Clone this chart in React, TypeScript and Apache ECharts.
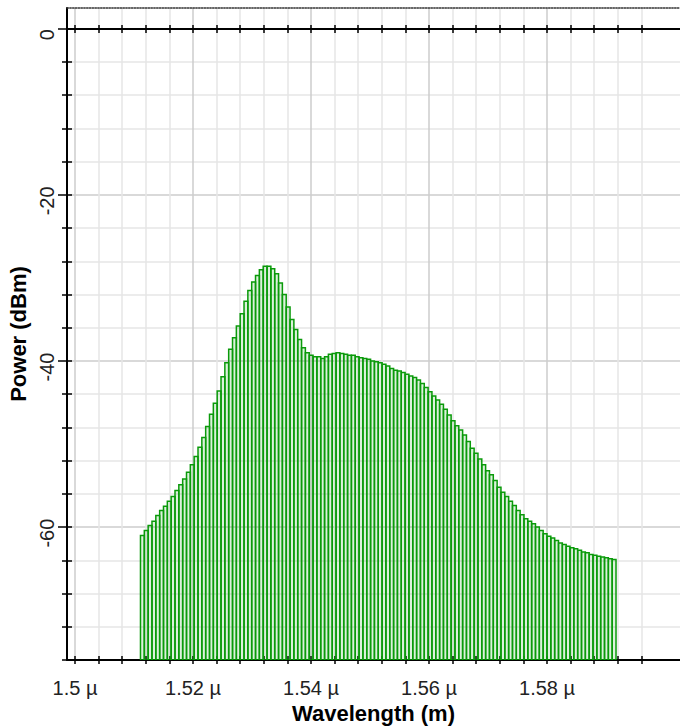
import React, { useEffect, useRef } from "react";
import * as echarts from "echarts";

// ---- data ----
const X_TITLE = "Wavelength (m)";
const Y_TITLE = "Power (dBm)";
const X_UNIT = "µ";

// spectrum bins (µm): first bin centre and bin width
const FIRST_WAVELENGTH = 1.51142;
const WAVELENGTH_STEP = 0.00065;

// power per bin (dBm)
const POWER_DBM = [
  -61.0, -60.4, -59.8, -59.3, -58.6, -58.0, -57.5, -56.9, -56.3, -55.6,
  -54.9, -54.2, -53.4, -52.5, -51.5, -50.4, -49.2, -47.9, -46.4, -45.1,
  -43.6, -41.9, -40.2, -38.6, -37.2, -35.8, -34.3, -32.8, -31.5, -30.5,
  -29.7, -29.0, -28.6, -28.6, -28.9, -29.5, -30.6, -32.0, -33.5, -35.0,
  -36.2, -37.4, -38.4, -39.0, -39.3, -39.5, -39.5, -39.7, -39.5, -39.2,
  -39.1, -39.0, -39.1, -39.2, -39.3, -39.3, -39.5, -39.6, -39.7, -39.8,
  -40.0, -40.1, -40.2, -40.4, -40.6, -40.9, -41.1, -41.2, -41.4, -41.6,
  -41.8, -42.0, -42.3, -42.7, -43.2, -43.7, -44.2, -44.7, -45.2, -45.8,
  -46.5, -47.2, -47.8, -48.3, -48.9, -49.7, -50.5, -51.1, -51.8, -52.5,
  -53.2, -53.7, -54.4, -55.2, -55.8, -56.3, -56.9, -57.4, -58.0, -58.5,
  -59.0, -59.3, -59.6, -60.0, -60.4, -60.8, -61.1, -61.3, -61.6, -61.9,
  -62.1, -62.3, -62.5, -62.6, -62.8, -63.0, -63.1, -63.3, -63.4, -63.5,
  -63.6, -63.7, -63.8, -63.9,
];

// axis extents
const X_MIN = 1.49864;
const X_MAX = 1.60254;
const X_GRID_MAX = 1.6;
const Y_MIN = -76;
const Y_MAX = 2.5;

const FONT = "'Liberation Sans', Arial, sans-serif";
const GREEN = "#0a9a0a";
const MAJOR_GRID = "#cdcdcd";
const MINOR_GRID = "#e6e6e6";

function bandX(gridIndex: number) {
  return {
    type: "value",
    gridIndex,
    min: X_MIN,
    max: X_GRID_MAX,
    axisLine: { show: false, onZero: false },
    axisTick: { show: false },
    axisLabel: { show: false },
    minorTick: { show: false, splitNumber: 5 },
    splitLine: {
      show: true,
      showMinLine: false,
      showMaxLine: false,
      lineStyle: { color: "#000", width: 1.5 },
    },
    minorSplitLine: { show: true, lineStyle: { color: "#000", width: 1.5 } },
  };
}

function hidden(gridIndex: number, min = 0, max = 1) {
  return { type: "value", gridIndex, min, max, show: false, axisLine: { onZero: false } };
}

export default function App() {
  const ref = useRef<HTMLDivElement>(null);

  useEffect(() => {
    if (!ref.current) return;
    const chart = echarts.init(ref.current, null, { renderer: "svg" });
    const data = POWER_DBM.map((p, i) => [FIRST_WAVELENGTH + i * WAVELENGTH_STEP, p]);

    chart.setOption({
      animation: false,
      backgroundColor: "#fff",
      grid: [
        { left: 67, right: 0, top: 8, bottom: 68, outerBoundsMode: "none" }, // 0 main
        { left: 67, right: 15, top: 8, bottom: 68, outerBoundsMode: "none" }, // 1 x grid + labels
        { left: 67, right: 15, top: 656, bottom: 64, outerBoundsMode: "none" }, // 2 bottom ticks
        { left: 67, right: 15, top: 25, bottom: 695, outerBoundsMode: "none" }, // 3 zero-line ticks
        { left: 62, right: 608, top: 8, bottom: 68, outerBoundsMode: "none" }, // 4 y ticks
        { left: 58, right: 618, top: 8, bottom: 68, outerBoundsMode: "none" }, // 5 y major ticks
      ],
      xAxis: [
        {
          type: "value",
          gridIndex: 0,
          min: X_MIN,
          max: X_MAX,
          position: "bottom",
          axisLine: { show: true, onZero: false, lineStyle: { color: "#000", width: 2 } },
          axisTick: { show: false },
          axisLabel: { show: false },
          splitLine: { show: false },
          name: X_TITLE,
          nameLocation: "middle",
          nameGap: 42,
          nameTextStyle: { fontFamily: FONT, fontSize: 22, fontWeight: "bold", color: "#000" },
        },
        {
          type: "value",
          gridIndex: 0,
          min: X_MIN,
          max: X_MAX,
          position: "top",
          axisLine: { show: true, onZero: false, lineStyle: { color: "#333", width: 1.5, type: [1.4, 1.4] } },
          axisTick: { show: false },
          axisLabel: { show: false },
          splitLine: { show: false },
        },
        {
          type: "value",
          gridIndex: 1,
          min: X_MIN,
          max: X_GRID_MAX,
          axisLine: { show: false, onZero: false },
          axisTick: { show: false },
          axisLabel: {
            show: true,
            showMinLabel: false,
            showMaxLabel: false,
            margin: 18,
            fontFamily: FONT,
            fontSize: 20,
            color: "#222",
            formatter: (v: number) => `${Number(v.toFixed(3))} ${X_UNIT}`,
          },
          minorTick: { show: false, splitNumber: 5 },
          splitLine: {
            show: true,
            showMinLine: false,
            showMaxLine: false,
            lineStyle: { color: MAJOR_GRID, width: 1.5 },
          },
          minorSplitLine: { show: true, lineStyle: { color: MINOR_GRID, width: 1.5 } },
        },
        bandX(2),
        bandX(3),
        hidden(4),
        hidden(5),
      ],
      yAxis: [
        {
          type: "value",
          gridIndex: 0,
          min: Y_MIN,
          max: Y_MAX,
          axisLine: { show: true, onZero: false, lineStyle: { color: "#000", width: 2 } },
          axisTick: { show: false },
          axisLabel: {
            show: true,
            rotate: 90,
            margin: 10,
            showMinLabel: false,
            showMaxLabel: false,
            formatter: (v: number) => `{t|${v}}`,
            rich: {
              t: {
                fontFamily: FONT,
                fontSize: 20,
                color: "#222",
                padding: [0, 12, 0, 0],
              },
            },
          },
          minorTick: { show: false, splitNumber: 5 },
          splitLine: {
            show: true,
            showMinLine: false,
            showMaxLine: false,
            lineStyle: { color: MAJOR_GRID, width: 1.5 },
          },
          minorSplitLine: { show: true, lineStyle: { color: MINOR_GRID, width: 1.5 } },
          name: Y_TITLE,
          nameLocation: "middle",
          nameGap: 37,
          nameRotate: 90,
          nameTextStyle: { fontFamily: FONT, fontSize: 22, fontWeight: "bold", color: "#000" },
        },
        hidden(1, Y_MIN, Y_MAX),
        hidden(2),
        hidden(3),
        {
          type: "value",
          gridIndex: 4,
          min: Y_MIN,
          max: Y_MAX,
          axisLine: { show: false, onZero: false },
          axisTick: { show: false },
          axisLabel: { show: false },
          minorTick: { show: false, splitNumber: 5 },
          splitLine: {
            show: true,
            showMinLine: true,
            showMaxLine: false,
            lineStyle: { color: "#000", width: 1.5 },
          },
          minorSplitLine: { show: true, lineStyle: { color: "#000", width: 1.5 } },
        },
        {
          type: "value",
          gridIndex: 5,
          min: Y_MIN,
          max: Y_MAX,
          axisLine: { show: false, onZero: false },
          axisTick: { show: false },
          axisLabel: { show: false },
          splitLine: {
            show: true,
            showMinLine: false,
            showMaxLine: false,
            lineStyle: { color: "#000", width: 1.5 },
          },
        },
      ],
      series: [
        {
          type: "custom",
          xAxisIndex: 0,
          yAxisIndex: 0,
          clip: true,
          data,
          renderItem: (params: any, api: any) => {
            const x = api.value(0);
            const v = api.value(1);
            const top = api.coord([x, v]);
            const base = api.coord([x, Y_MIN]);
            const w = api.size([WAVELENGTH_STEP, 0])[0];
            return {
              type: "rect",
              shape: { x: top[0] - w / 2, y: top[1], width: w, height: base[1] - top[1] },
              style: { fill: "rgba(10,154,10,0.14)", stroke: GREEN, lineWidth: 1.5 },
            };
          },
          markLine: {
            silent: true,
            symbol: ["none", "none"],
            label: { show: false },
            lineStyle: { color: "#000", width: 2, type: "solid" },
            data: [{ yAxis: 0 }],
          },
        },
      ],
    });

    return () => chart.dispose();
  }, []);

  return (
    <div
      ref={ref}
      style={{ position: "absolute", left: 0, top: 0, width: 680, height: 728 }}
    />
  );
}
